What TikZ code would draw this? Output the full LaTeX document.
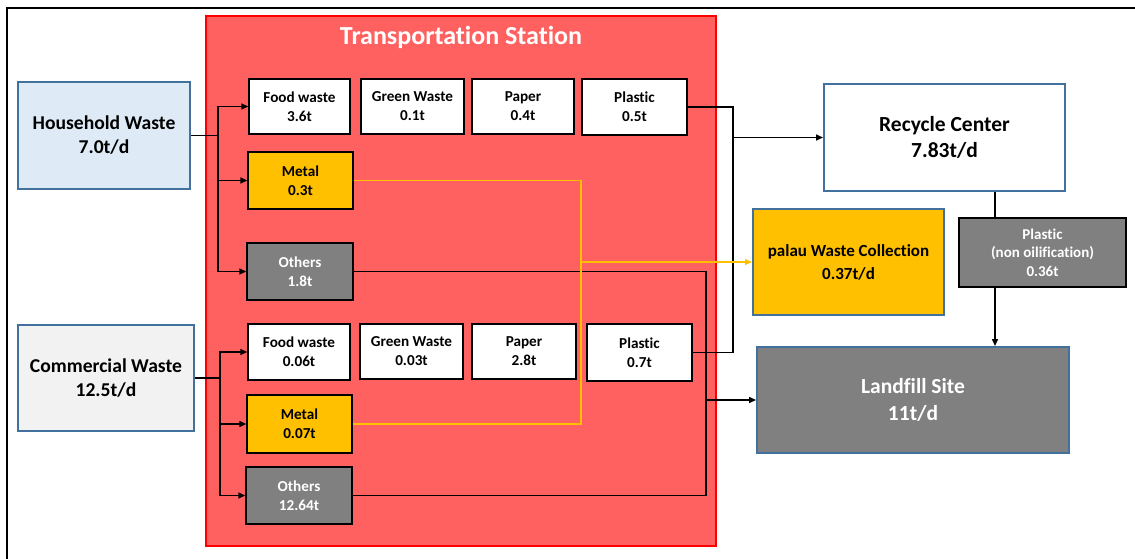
\documentclass[tikz,border=0pt]{standalone}
\usepackage{fontspec}
\setmainfont{Carlito}[Ligatures=NoCommon]
\usetikzlibrary{arrows.meta}
\definecolor{bluebd}{RGB}{65,113,156}
\definecolor{hhfill}{RGB}{222,235,247}
\definecolor{cwfill}{RGB}{242,242,242}
\definecolor{redfill}{RGB}{255,97,97}
\definecolor{orng}{RGB}{255,192,0}
\definecolor{greyfill}{RGB}{128,128,128}
\tikzset{
  smallbox/.style={draw=black, line width=1.4pt, fill=white, align=center, inner sep=0pt,
     font=\fontsize{15.2}{19}\selectfont\bfseries},
  bigbox/.style={draw=bluebd, line width=2pt, align=center, inner sep=0pt,
     font=\fontsize{19.6}{24}\selectfont\bfseries},
  conn/.style={draw=black, line width=1.5pt},
  arr/.style={conn, -{Triangle[length=7pt,width=6pt]}},
  oconn/.style={draw=orng, line width=1.1pt},
  oarr/.style={oconn, -{Triangle[length=7pt,width=6pt]}},
}
\begin{document}
\begin{tikzpicture}[x=1pt,y=-1pt]
\useasboundingbox (0,0) rectangle (1135,559);
\fill[white] (0,0) rectangle (1135,559);
% outer frame
\draw[line width=1.4pt] (7,560) -- (7,8) -- (1136,8);
% transportation station
\node[draw=red, line width=2pt, fill=redfill, minimum width=510pt, minimum height=530pt, inner sep=0pt] (ts) at (461,281) {};
\node[text=white, font=\fontsize{26}{30}\selectfont\bfseries] (tt) at (461,37) {Transportation Station};
% sources
\node[bigbox, fill=hhfill, minimum width=172pt, minimum height=107pt] (hh) at (104,135.5) {Household Waste\\7.0t/d};
\node[bigbox, fill=cwfill, minimum width=176pt, minimum height=106pt] (cw) at (106,378) {Commercial Waste\\12.5t/d};
% household components
\node[smallbox, minimum width=101pt, minimum height=55pt] (f1) at (299.5,106.5) {Food waste\\3.6t};
\node[smallbox, minimum width=103pt, minimum height=55pt] (g1) at (412.5,106.5) {Green Waste\\0.1t};
\node[smallbox, minimum width=102pt, minimum height=55pt] (p1) at (523,106.5) {Paper\\0.4t};
\node[smallbox, minimum width=105pt, minimum height=56pt] (pl1) at (634.5,107) {Plastic\\0.5t};
\node[smallbox, fill=orng, minimum width=105pt, minimum height=57pt] (m1) at (300.5,180.5) {Metal\\0.3t};
\node[smallbox, fill=greyfill, text=white, minimum width=106pt, minimum height=57pt] (o1) at (300,271.5) {Others\\1.8t};
% commercial components
\node[smallbox, minimum width=102pt, minimum height=56pt] (f2) at (299,352) {Food waste\\0.06t};
\node[smallbox, minimum width=103pt, minimum height=55pt] (g2) at (411.5,351.5) {Green Waste\\0.03t};
\node[smallbox, minimum width=104pt, minimum height=55pt] (p2) at (524,351.5) {Paper\\2.8t};
\node[smallbox, minimum width=105pt, minimum height=57pt] (pl2) at (639.5,352.5) {Plastic\\0.7t};
\node[smallbox, fill=orng, minimum width=105pt, minimum height=58pt] (m2) at (299.5,424) {Metal\\0.07t};
\node[smallbox, fill=greyfill, text=white, minimum width=106pt, minimum height=57pt] (o2) at (299,495.5) {Others\\12.64t};
% destinations
\node[bigbox, fill=white, minimum width=241pt, minimum height=107pt, font=\fontsize{21.5}{26}\selectfont\bfseries] (rc) at (944.5,137.5) {Recycle Center\\7.83t/d};
\node[bigbox, fill=orng, minimum width=191pt, minimum height=106pt, font=\fontsize{17}{23}\selectfont\bfseries] (pw) at (848.5,262) {palau Waste Collection\\0.37t/d};
\node[smallbox, fill=greyfill, text=white, minimum width=167pt, minimum height=69pt, font=\fontsize{15}{18.5}\selectfont\bfseries] (pn) at (1042.5,252.5) {Plastic\\(non oilification)\\0.36t};
\node[bigbox, fill=greyfill, text=white, minimum width=312pt, minimum height=106pt, font=\fontsize{21.5}{27}\selectfont\bfseries] (lf) at (913,400) {Landfill Site\\11t/d};
% junctions
\coordinate (j1) at (218,135.5);
\coordinate (j2) at (220,378);
\coordinate (jp) at (733,137.5);
\coordinate (jo) at (706,400);
\coordinate (jm) at (581,262);
\coordinate (cx) at (995,0);
% household connectors
\draw[conn] (hh.east) -- (j1);
\draw[arr] (j1) |- (f1.west);
\draw[arr] (j1) |- (m1.west);
\draw[arr] (j1) |- (o1.west);
% commercial connectors
\draw[conn] (cw.east) -- (j2);
\draw[arr] (j2) |- (f2.west);
\draw[arr] (j2) |- (m2.west);
\draw[arr] (j2) |- (o2.west);
% plastic to recycle
\draw[conn] (pl1.east) -| (jp);
\draw[conn] (pl2.east) -| (jp);
\draw[arr] (jp) -- (rc.west);
% others to landfill
\draw[conn] (o1.east) -| (jo);
\draw[conn] (o2.east) -| (jo);
\draw[arr] (jo) -- (lf.west);
% metal to palau
\draw[oconn] (m1.east) -| (jm);
\draw[oconn] (m2.east) -| (jm);
\draw[oarr] (jm) -- (pw.west);
% recycle -> plastic -> landfill
\draw[conn] (rc.south -| cx) -- (pn.north -| cx);
\draw[arr] (pn.south -| cx) -- (lf.north -| cx);
\end{tikzpicture}
\end{document}
